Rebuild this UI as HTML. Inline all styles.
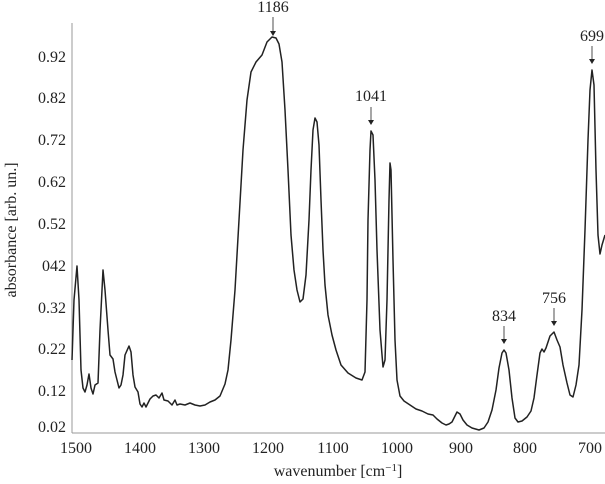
<!DOCTYPE html>
<html><head><style>html,body{margin:0;padding:0;background:#fff}svg{display:block}</style></head><body>
<svg width="605" height="484" viewBox="0 0 605 484" xmlns="http://www.w3.org/2000/svg" font-family="Liberation Serif, serif" font-size="16" fill="#222">
<line x1="72" y1="23" x2="72" y2="433" stroke="#999" stroke-width="1"/>
<line x1="72" y1="433" x2="605" y2="433" stroke="#999" stroke-width="1"/>
<g text-anchor="end">
<text x="66" y="62">0.92</text><text x="66" y="103">0.82</text><text x="66" y="145">0.72</text><text x="66" y="187">0.62</text><text x="66" y="229">0.52</text><text x="66" y="271">042</text><text x="66" y="313">0.32</text><text x="66" y="354">0.22</text><text x="66" y="396">0.12</text><text x="66" y="432">0.02</text>
</g>
<g text-anchor="middle">
<text x="76" y="453">1500</text><text x="140" y="453">1400</text><text x="204" y="453">1300</text><text x="268" y="453">1200</text><text x="333" y="453">1100</text><text x="397" y="453">1000</text><text x="461" y="453">900</text><text x="525" y="453">800</text><text x="590" y="453">700</text>
<text x="338" y="476">wavenumber [cm<tspan dy="-5" font-size="11">−1</tspan><tspan dy="5">]</tspan></text>
<text transform="translate(16,230) rotate(-90)">absorbance [arb. un.]</text>
<text x="273" y="12">1186</text><text x="371" y="101">1041</text><text x="504" y="321">834</text><text x="554" y="303">756</text><text x="592" y="41">699</text>
</g>
<g stroke="#222" stroke-width="0.8">
<line x1="273" y1="17" x2="273" y2="31"/><line x1="371" y1="107" x2="371" y2="120"/><line x1="504" y1="326" x2="504" y2="339"/><line x1="554" y1="308" x2="554" y2="321"/><line x1="592" y1="46" x2="592" y2="59"/>
</g>
<g fill="#222">
<polygon points="270,31 276,31 273,36"/><polygon points="368,120 374,120 371,125"/><polygon points="501,339 507,339 504,344"/><polygon points="551,321 557,321 554,326"/><polygon points="589,59 595,59 592,64"/>
</g>
<path fill="none" stroke="#222" stroke-width="1.5" stroke-linejoin="round" d="M72,360 L74,300 L77,266 L79,300 L81,370 L83,388 L85,392 L87,385 L89,374 L91,388 L93,394 L95,385 L98,383 L100,330 L103,270 L105,290 L108,330 L110,355 L113,359 L115,372 L117,380 L119,388 L121,385 L123,375 L125,355 L129,346 L131,352 L133,375 L135,387 L138,392 L140,404 L142,407 L144,403 L146,407 L150,399 L153,396 L156,395 L159,398 L162,393 L164,400 L168,401 L172,405 L175,400 L177,405 L180,404 L185,405 L190,403 L195,405 L200,406 L205,405 L210,402 L215,400 L220,396 L225,384 L228,370 L231,340 L235,290 L239,220 L243,150 L247,100 L251,72 L256,62 L262,55 L267,42 L272,37 L276,38 L279,44 L282,62 L285,110 L288,170 L291,235 L294,270 L297,290 L300,302 L303,299 L306,275 L309,220 L311,170 L313,130 L315,118 L317,122 L319,145 L321,200 L323,250 L325,285 L328,315 L332,335 L336,350 L341,365 L348,373 L356,378 L362,380 L365,372 L367,300 L368,220 L370,150 L371,131 L373,135 L375,180 L377,250 L380,330 L383,367 L385,360 L387,300 L389,200 L390,163 L391,170 L393,260 L395,340 L397,380 L400,396 L404,401 L410,405 L416,409 L422,411 L428,414 L433,415 L437,419 L442,423 L446,425 L449,424 L452,422 L455,416 L457,412 L460,414 L463,420 L467,425 L472,428 L479,430 L484,428 L488,422 L492,410 L496,390 L499,368 L502,353 L504,350 L506,353 L509,370 L512,398 L515,418 L518,422 L522,421 L527,417 L531,411 L534,398 L537,375 L540,353 L542,349 L544,352 L546,348 L550,336 L554,332 L557,340 L560,347 L563,365 L567,383 L570,395 L573,397 L576,385 L579,365 L582,310 L585,230 L588,140 L590,90 L592,70 L594,85 L596,170 L598,235 L600,254 L602,245 L605,235"/>
</svg>
</body></html>
